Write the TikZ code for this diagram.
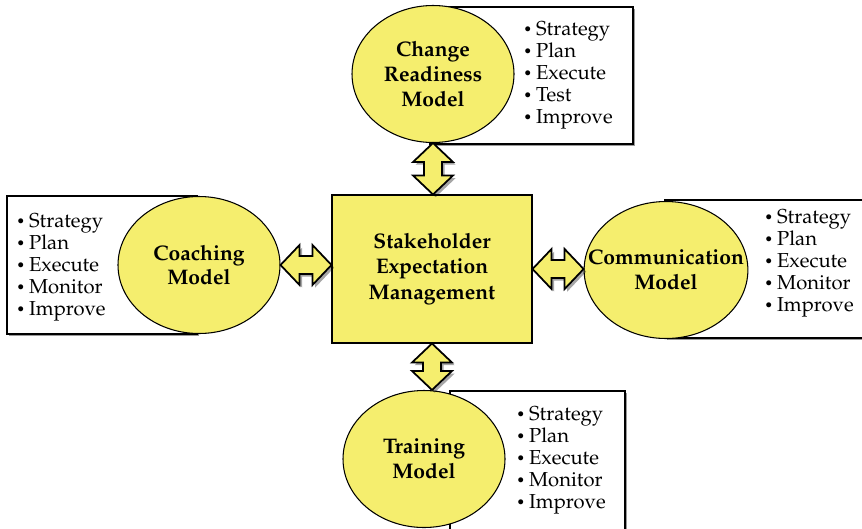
\documentclass[tikz,border=0pt]{standalone}
\usepackage[T1]{fontenc}
\usepackage{mathpazo}
\usepackage{tikz}
\usetikzlibrary{calc,shadows,shapes.geometric}

\definecolor{modelfill}{RGB}{245,238,110}

\newcommand{\bul}{\raisebox{0.25ex}{\scriptsize$\bullet$}\ }

\tikzset{
  model/.style={ellipse, draw=black, line width=0.6pt, fill=modelfill, minimum width=3.24cm, minimum height=2.74cm,
    align=center, inner xsep=-0.4cm, inner ysep=0pt, font=\fontsize{12}{14.2}\selectfont\bfseries},
  listbox/.style={draw=black, line width=0.6pt, fill=white,
    drop shadow={shadow xshift=1pt, shadow yshift=-1pt, opacity=0.4, fill=black}},
  steplist/.style={anchor=west, align=left, inner sep=0pt, font=\fontsize{11.5}{12.5}\selectfont},
  blockarrow/.style={draw=black, line width=1pt, fill=modelfill, line join=miter,
    drop shadow={shadow xshift=1.5pt, shadow yshift=-1.5pt, opacity=0.35, fill=black},
    to path={
      -- ($(\tikztostart)!0.38cm!(\tikztotarget)!0.4cm!90:(\tikztotarget)$)
      -- ($(\tikztostart)!0.38cm!(\tikztotarget)!0.18cm!90:(\tikztotarget)$)
      -- ($(\tikztotarget)!0.38cm!(\tikztostart)!0.18cm!-90:(\tikztostart)$)
      -- ($(\tikztotarget)!0.38cm!(\tikztostart)!0.4cm!-90:(\tikztostart)$)
      -- (\tikztotarget)
      -- ($(\tikztotarget)!0.38cm!(\tikztostart)!0.4cm!90:(\tikztostart)$)
      -- ($(\tikztotarget)!0.38cm!(\tikztostart)!0.18cm!90:(\tikztostart)$)
      -- ($(\tikztostart)!0.38cm!(\tikztotarget)!0.18cm!-90:(\tikztotarget)$)
      -- ($(\tikztostart)!0.38cm!(\tikztotarget)!0.4cm!-90:(\tikztotarget)$)
      -- cycle}}
}

\begin{document}
\begin{tikzpicture}
    \useasboundingbox (0,0) rectangle (17.24,-10.56);

    % list boxes behind the models
    \draw[listbox] (8.6,-0.14) rectangle (12.66,-2.88);
    \draw[listbox] (0.14,-3.92) rectangle (3.94,-6.68);
    \draw[listbox] (13.3,-4.0) rectangle (17.5,-6.76);
    \draw[listbox] (9.0,-7.82) rectangle (12.5,-10.8);

    \node[draw=black, line width=0.6pt, fill=modelfill, minimum width=4cm, minimum height=2.96cm, align=center,
          font=\fontsize{12}{14.4}\selectfont\bfseries] (core) at (8.64,-5.38) {Stakeholder\\Expectation\\Management};

    \node[model] (readiness)     at (8.66,-1.48) {Change\\Readiness\\Model};
    \node[model] (coaching)      at (3.98,-5.3)  {Coaching\\Model};
    \node[model] (communication) at (13.32,-5.4) {Communication\\Model};
    \node[model] (training)      at (8.48,-9.18) {Training\\Model};

    \node[steplist] (readinesslist)     at (10.48,-1.5)  {\bul Strategy\\\bul Plan\\\bul Execute\\\bul Test\\\bul Improve};
    \node[steplist] (coachinglist)      at (0.34,-5.34)  {\bul Strategy\\\bul Plan\\\bul Execute\\\bul Monitor\\\bul Improve};
    \node[steplist] (communicationlist) at (15.3,-5.26)  {\bul Strategy\\\bul Plan\\\bul Execute\\\bul Monitor\\\bul Improve};
    \node[steplist] (traininglist)      at (10.34,-9.2)  {\bul Strategy\\\bul Plan\\\bul Execute\\\bul Monitor\\\bul Improve};

    % double arrows
    \draw[blockarrow] (readiness.south) to (readiness.south |- core.north);
    \draw[blockarrow] (coaching.east) to (coaching.east -| core.west);
    \draw[blockarrow] (core.east) to (core.east -| communication.west);
    \draw[blockarrow] (core.south) to (core.south |- training.north);
\end{tikzpicture}
\end{document}
